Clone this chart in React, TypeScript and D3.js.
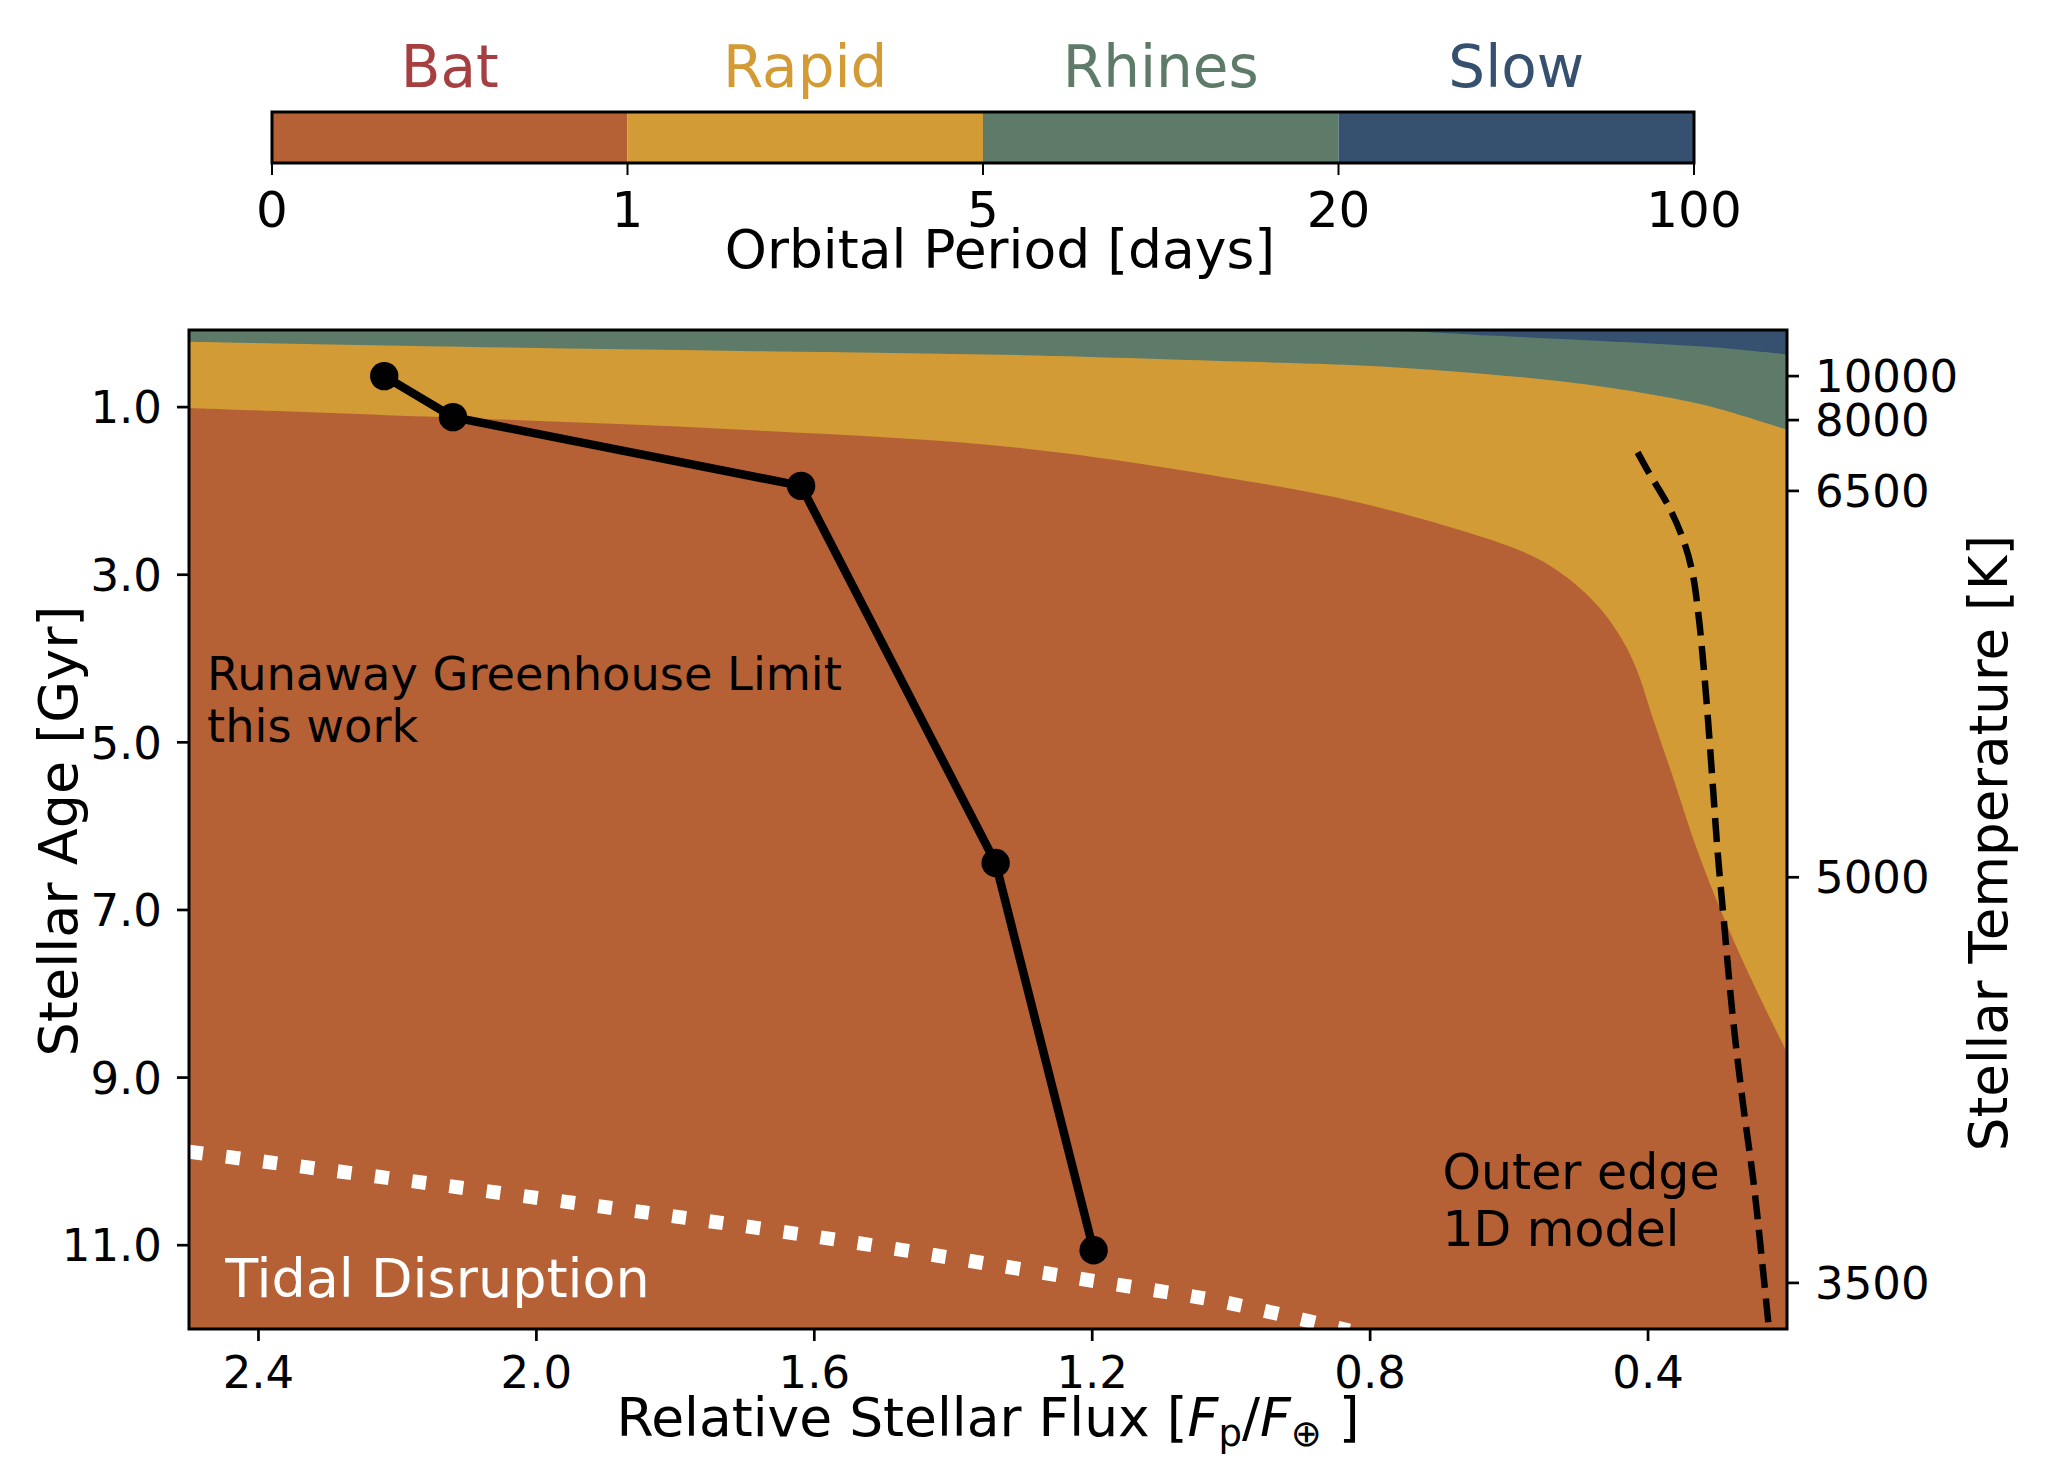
import React from "react";
import * as d3 from "d3";

// colorbar: rotation regimes over orbital period
const regimes = ["Bat", "Rapid", "Rhines", "Slow"];
const regimeFill = ["#B66135", "#D39B35", "#5E7B69", "#36506F"];
const regimeText = ["#A63F3F", "#D39B35", "#5E7B69", "#36506F"];
const periodTicks = ["0", "1", "5", "20", "100"];

// upper boundary of each regime, (flux, age in Gyr)
const batTopFlux = [2.5, 2.108, 1.705, 1.301, 0.972, 0.821, 0.67, 0.568, 0.517, 0.467, 0.437, 0.416, 0.392, 0.366, 0.329, 0.291, 0.249, 0.2];
const batTopAge = [1.01, 1.13, 1.27, 1.49, 1.89, 2.13, 2.47, 2.77, 3.03, 3.42, 3.78, 4.14, 4.74, 5.37, 6.29, 7.09, 7.87, 8.7];
const rapidTopFlux = [2.5, 2.108, 1.705, 1.301, 0.972, 0.821, 0.67, 0.517, 0.416, 0.316, 0.2];
const rapidTopAge = [0.22, 0.28, 0.33, 0.38, 0.46, 0.5, 0.58, 0.7, 0.82, 0.98, 1.27];
const rhinesTopFlux = [2.5, 0.8, 0.62, 0.467, 0.316, 0.2];
const rhinesTopAge = [0.08, 0.08, 0.15, 0.21, 0.28, 0.37];

// runaway greenhouse limit (this work)
const limitFlux = [2.219, 2.12, 1.619, 1.339, 1.198];
const limitAge = [0.63, 1.12, 1.94, 6.44, 11.06];

// outer edge, 1D model
const outerFlux = [0.415, 0.399, 0.37, 0.349, 0.336, 0.327, 0.32, 0.314, 0.307, 0.3, 0.291, 0.278, 0.264, 0.248, 0.235, 0.226];
const outerAge = [1.54, 1.78, 2.19, 2.59, 2.98, 3.51, 4.1, 4.7, 5.49, 6.29, 7.12, 8.28, 9.27, 10.26, 11.26, 12.0];

// tidal disruption
const tidalFlux = [2.5, 2.049, 1.62, 1.188, 1.016, 0.83];
const tidalAge = [9.885, 10.38, 10.87, 11.44, 11.67, 12.02];

const fluxTicks = [2.4, 2.0, 1.6, 1.2, 0.8, 0.4];
const ageTicks = [1, 3, 5, 7, 9, 11];
const tempTicks = [10000, 8000, 6500, 5000, 3500];
const tempTickAge = [0.63, 1.155, 2.0, 6.61, 11.45];

const FONT = "DejaVu Sans, Liberation Sans, sans-serif";

const zip = (a: number[], b: number[]) => a.map((v, i) => [v, b[i]] as [number, number]);

export default function App() {
  const W = 2058;
  const H = 1468;
  const plot = { left: 189, right: 1787, top: 330, bottom: 1329 };
  const cbar = { left: 272, right: 1694, top: 112, bottom: 163 };

  const x = d3.scaleLinear().domain([2.5, 0.2]).range([plot.left, plot.right]);
  const y = d3.scaleLinear().domain([0.08, 12]).range([plot.top, plot.bottom]);
  const cb = d3.scalePoint<string>().domain(periodTicks).range([cbar.left, cbar.right]);

  const area = d3
    .area<[number, number]>()
    .x((d) => x(d[0]))
    .y0(plot.bottom + 5)
    .y1((d) => y(d[1]))
    .curve(d3.curveCatmullRom.alpha(0.5));
  const line = d3
    .line<[number, number]>()
    .x((d) => x(d[0]))
    .y((d) => y(d[1]));
  const smooth = d3
    .line<[number, number]>()
    .x((d) => x(d[0]))
    .y((d) => y(d[1]))
    .curve(d3.curveCatmullRom.alpha(0.5));

  const fmt = d3.format(".1f");

  return (
    <svg
      width={W}
      height={H}
      style={{ position: "absolute", left: 0, top: 0, background: "white" }}
      fontFamily={FONT}
    >
      <defs>
        <clipPath id="plotclip">
          <rect x={plot.left} y={plot.top} width={plot.right - plot.left} height={plot.bottom - plot.top} />
        </clipPath>
      </defs>

      {/* colorbar */}
      {regimes.map((r, i) => {
        const x0 = cb(periodTicks[i])!;
        const x1 = cb(periodTicks[i + 1])!;
        return (
          <g key={r}>
            <rect x={x0} y={cbar.top} width={x1 - x0} height={cbar.bottom - cbar.top} fill={regimeFill[i]} />
            <text x={(x0 + x1) / 2} y={87} fontSize={58} textAnchor="middle" fill={regimeText[i]}>
              {r}
            </text>
          </g>
        );
      })}
      <rect
        x={cbar.left}
        y={cbar.top}
        width={cbar.right - cbar.left}
        height={cbar.bottom - cbar.top}
        fill="none"
        stroke="black"
        strokeWidth={3}
      />
      {periodTicks.map((t) => (
        <g key={t}>
          <line x1={cb(t)} x2={cb(t)} y1={cbar.bottom} y2={cbar.bottom + 12} stroke="black" strokeWidth={2} />
          <text x={cb(t)} y={227} fontSize={50} textAnchor="middle">
            {t}
          </text>
        </g>
      ))}
      <text x={1000} y={268} fontSize={53.5} textAnchor="middle">
        Orbital Period [days]
      </text>

      {/* regime areas */}
      <g clipPath="url(#plotclip)">
        <rect x={plot.left} y={plot.top} width={plot.right - plot.left} height={plot.bottom - plot.top} fill={regimeFill[3]} />
        <path d={area(zip(rhinesTopFlux, rhinesTopAge))!} fill={regimeFill[2]} />
        <path d={area(zip(rapidTopFlux, rapidTopAge))!} fill={regimeFill[1]} />
        <path d={area(zip(batTopFlux, batTopAge))!} fill={regimeFill[0]} />

        <path
          d={smooth(zip(tidalFlux, tidalAge))!}
          fill="none"
          stroke="white"
          strokeWidth={14}
          strokeDasharray="14 23.5"
        />
        <path
          d={smooth(zip(outerFlux, outerAge))!}
          fill="none"
          stroke="black"
          strokeWidth={6.5}
          strokeDasharray="24 10.5"
        />
        <path
          d={line(zip(limitFlux, limitAge))!}
          fill="none"
          stroke="black"
          strokeWidth={8.5}
          strokeLinejoin="round"
        />
        {limitFlux.map((f, i) => (
          <circle key={i} cx={x(f)} cy={y(limitAge[i])} r={14.2} fill="black" />
        ))}
      </g>

      {/* annotations */}
      <text x={x(2.474)} y={y(4.38)} fontSize={46.3}>
        <tspan x={x(2.474)}>Runaway Greenhouse Limit</tspan>
        <tspan x={x(2.474)} dy={52}>this work</tspan>
      </text>
      <text x={x(2.448)} y={y(11.62)} fontSize={54} fill="white">
        Tidal Disruption
      </text>
      <text x={x(0.696)} y={y(10.33)} fontSize={49}>
        <tspan x={x(0.696)}>Outer edge</tspan>
        <tspan x={x(0.696)} dy={57}>1D model</tspan>
      </text>

      {/* frame */}
      <rect
        x={plot.left}
        y={plot.top}
        width={plot.right - plot.left}
        height={plot.bottom - plot.top}
        fill="none"
        stroke="black"
        strokeWidth={3}
      />

      {/* bottom axis */}
      {fluxTicks.map((t) => (
        <g key={t}>
          <line x1={x(t)} x2={x(t)} y1={plot.bottom} y2={plot.bottom + 12} stroke="black" strokeWidth={2.7} />
          <text x={x(t)} y={1388} fontSize={45} textAnchor="middle">
            {fmt(t)}
          </text>
        </g>
      ))}
      <text x={(plot.left + plot.right) / 2} y={1436} fontSize={53.5} textAnchor="middle">
        Relative Stellar Flux [<tspan fontStyle="italic">F</tspan>
        <tspan fontSize={37} dy={10}>p</tspan>
        <tspan dy={-10}>/</tspan>
        <tspan fontStyle="italic">F</tspan>
        <tspan fontSize={37} dy={10}>⊕</tspan>
        <tspan dy={-10}> ]</tspan>
      </text>

      {/* left axis */}
      {ageTicks.map((t) => (
        <g key={t}>
          <line x1={plot.left - 12} x2={plot.left} y1={y(t)} y2={y(t)} stroke="black" strokeWidth={2.7} />
          <text x={162} y={y(t)} dy="0.36em" fontSize={45} textAnchor="end">
            {fmt(t)}
          </text>
        </g>
      ))}
      <text transform={`translate(77,831) rotate(-90)`} fontSize={54} textAnchor="middle">
        Stellar Age [Gyr]
      </text>

      {/* right axis: stellar temperature */}
      {tempTicks.map((t, i) => (
        <g key={t}>
          <line
            x1={plot.right}
            x2={plot.right + 12}
            y1={y(tempTickAge[i])}
            y2={y(tempTickAge[i])}
            stroke="black"
            strokeWidth={2.7}
          />
          <text x={1815} y={y(tempTickAge[i])} dy="0.36em" fontSize={45}>
            {t}
          </text>
        </g>
      ))}
      <text transform={`translate(2007,843) rotate(-90)`} fontSize={53} textAnchor="middle">
        Stellar Temperature [K]
      </text>
    </svg>
  );
}
